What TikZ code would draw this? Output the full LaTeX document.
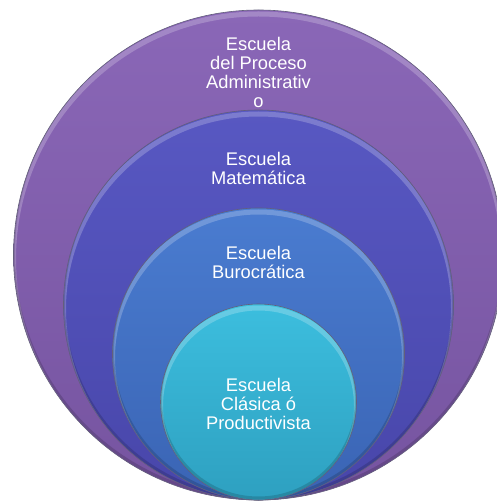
\documentclass[tikz,border=0pt]{standalone}
\usepackage{fontspec}
\setmainfont{Liberation Sans}
\definecolor{pA}{RGB}{130,95,175}
\definecolor{pAtop}{RGB}{138,103,183}
\definecolor{pAbot}{RGB}{118,84,160}
\definecolor{pB}{RGB}{82,82,188}
\definecolor{pBtop}{RGB}{88,88,194}
\definecolor{pBbot}{RGB}{72,70,170}
\definecolor{pC}{RGB}{70,115,200}
\definecolor{pCtop}{RGB}{74,124,208}
\definecolor{pCbot}{RGB}{58,100,180}
\definecolor{pD}{RGB}{56,182,214}
\definecolor{pDtop}{RGB}{60,190,222}
\definecolor{pDbot}{RGB}{46,160,192}
\definecolor{rimline}{RGB}{60,55,90}
\tikzset{
  ring/.style={draw=rimline!80, line width=0.6pt},
  lbl/.style={text=white, align=center, inner sep=0pt, anchor=north,
    font=\fontsize{18.3}{19}\selectfont},
}
\newcommand{\bevelcircle}[5]{%
  % #1 center, #2 radius, #3 top colour, #4 bottom colour, #5 name
  \begin{scope}
    \clip #1 circle (#2);
    \shade[top color=#3, bottom color=#4] ($#1+(-#2,-#2)$) rectangle ($#1+(#2,#2)$);
    \draw[white, opacity=0.22, line width=5pt] ($#1+(0,4)$) circle (#2);
    \draw[black, opacity=0.15, line width=3pt] ($#1+(0,-2)$) circle (#2);
  \end{scope}
  \draw[ring] #1 circle (#2);
  \coordinate (#5) at #1;
}
\usetikzlibrary{calc}
\begin{document}
\begin{tikzpicture}[x=1pt,y=-1pt]
\useasboundingbox (0,0) rectangle (496,502);
\bevelcircle{(258.5,255)}{245}{pAtop}{pAbot}{cA}
\bevelcircle{(258.5,305)}{195}{pBtop}{pBbot}{cB}
\bevelcircle{(258.5,354)}{146}{pCtop}{pCbot}{cC}
\bevelcircle{(258.5,402)}{98}{pDtop}{pDbot}{cD}
\node[lbl] (tA) at (258.5,36.9) {Escuela\\del Proceso\\Administrativ\\o};
\node[lbl] (tB) at (258.5,151.9) {Escuela\\Matemática};
\node[lbl] (tC) at (258.5,245.9) {Escuela\\Burocrática};
\node[lbl] (tD) at (258.5,377.9) {Escuela\\Clásica ó\\Productivista};
\end{tikzpicture}
\end{document}
